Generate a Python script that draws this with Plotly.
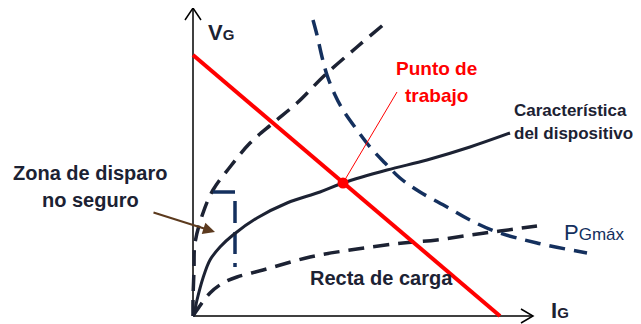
import plotly.graph_objects as go

# schematic values (origin at the axes crossing)
ig_recta = [0, 307]
vg_recta = [261, 0]

ig_caract = [0, 1, 4, 10, 17, 27, 40, 64, 94, 127, 150, 194, 234, 277, 317]
vg_caract = [0, 2, 16, 38, 56, 69, 81, 98, 113, 124, 133, 146, 156, 169, 183]

ig_max = [0, 0, 1, 2, 10, 20, 37, 57, 80, 104, 132, 164, 190]
vg_max = [0, 16, 46, 73, 103, 126, 149, 173, 193, 213, 241, 269, 291]

ig_min = [0, 4, 17, 30, 44, 70, 117, 164, 210, 244, 277, 307, 344]
vg_min = [0, 6, 23, 33, 39, 46, 59, 67, 73, 76, 81, 85, 90]

ig_pg = [120, 124, 129, 134, 142, 150, 164, 177, 192, 207, 227, 254, 277, 304, 344, 394]
vg_pg = [296, 281, 259, 241, 221, 206, 186, 169, 153, 138, 124, 109, 96, 84, 73, 63]

ig_zona = [20, 42, 42]
vg_zona = [124, 124, 49]

ig_punto = 150
vg_punto = 133

ig_eje = 340
vg_eje = 308

FONT = "Liberation Sans, Arial, sans-serif"
DARK = "#1c2233"
NAVY = "#14305e"
DASH = "16px,9px"

fig = go.Figure()

# axes with open arrow heads
fig.add_trace(go.Scatter(x=[0, 0], y=[0, vg_eje], mode="lines",
                         line=dict(color="black", width=1.5)))
fig.add_trace(go.Scatter(x=[-8, 0, 8], y=[vg_eje - 12, vg_eje, vg_eje - 12], mode="lines",
                         line=dict(color="black", width=1.5)))
fig.add_trace(go.Scatter(x=[0, ig_eje], y=[0, 0], mode="lines",
                         line=dict(color="black", width=1.5)))
fig.add_trace(go.Scatter(x=[ig_eje - 12, ig_eje, ig_eje - 12], y=[7, 0, -7], mode="lines",
                         line=dict(color="black", width=1.5)))

# limit curves
fig.add_trace(go.Scatter(x=ig_max, y=vg_max, mode="lines", line_shape="spline",
                         line=dict(color=DARK, width=3.5, dash=DASH)))
fig.add_trace(go.Scatter(x=ig_min, y=vg_min, mode="lines", line_shape="spline",
                         line=dict(color=DARK, width=3.5, dash=DASH)))
fig.add_trace(go.Scatter(x=ig_pg, y=vg_pg, mode="lines", line_shape="spline",
                         line=dict(color=NAVY, width=3.5, dash=DASH)))
fig.add_trace(go.Scatter(x=ig_zona, y=vg_zona, mode="lines",
                         line=dict(color=NAVY, width=3.5, dash="22px,9px")))

# device characteristic and load line
fig.add_trace(go.Scatter(x=ig_caract, y=vg_caract, mode="lines", line_shape="spline",
                         line=dict(color=DARK, width=3)))
fig.add_trace(go.Scatter(x=ig_recta, y=vg_recta, mode="lines",
                         line=dict(color="#ff0000", width=4)))
fig.add_trace(go.Scatter(x=[ig_punto, 204], y=[vg_punto, 224], mode="lines",
                         line=dict(color="#ff0000", width=1)))
fig.add_trace(go.Scatter(x=[ig_punto], y=[vg_punto], mode="markers",
                         marker=dict(color="#ff0000", size=11)))

def label(x, y, text, size, color=DARK, anchor="left"):
    fig.add_annotation(x=x, y=y, text=text, showarrow=False, xanchor=anchor,
                       yanchor="middle", font=dict(family=FONT, size=size, color=color))

label(13, 284, "<b>V<span style='font-size:15px'>G</span></b>", 22)
label(356, 6, "<b>I<span style='font-size:15px'>G</span></b>", 22)
label(243, 248, "<b>Punto de</b>", 19, "#ff0000", "center")
label(243, 221, "<b>trabajo</b>", 19, "#ff0000", "center")
label(319, 206, "<b>Característica</b>", 17)
label(319, 183, "<b>del dispositivo</b>", 17)
label(369, 84, "P<span style='font-size:17px'>Gmáx</span>", 22, NAVY)
label(115, 38, "<b>Recta de carga</b>", 20)
label(-103, 143, "<b>Zona de disparo</b>", 20, DARK, "center")
label(-103, 116, "<b>no seguro</b>", 20, DARK, "center")

fig.add_annotation(x=22, y=84, ax=-41, ay=104, axref="x", ayref="y",
                   text="", showarrow=True, arrowhead=2, arrowsize=1.2,
                   arrowwidth=2, arrowcolor="#5c3a1e")

# page body adds an 8px offset, ranges compensate for it
fig.update_layout(width=641, height=324, margin=dict(l=0, r=0, t=0, b=0),
                  plot_bgcolor="white", paper_bgcolor="white", showlegend=False,
                  xaxis=dict(range=[-185, 456], visible=False),
                  yaxis=dict(range=[-16, 308], visible=False))

fig.write_html("out.html")
